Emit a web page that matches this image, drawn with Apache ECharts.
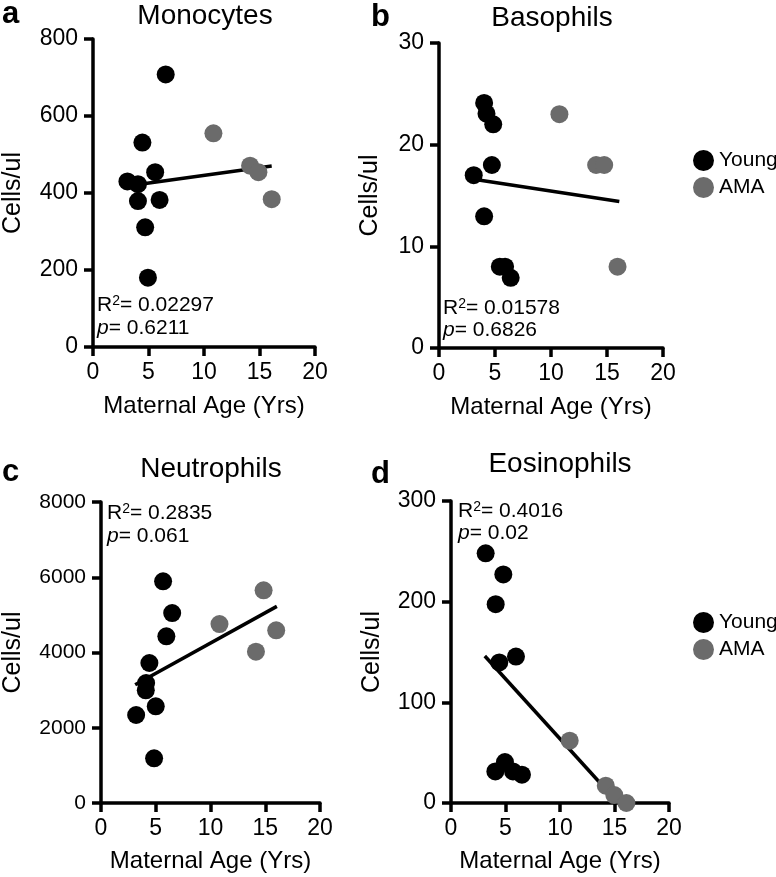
<!DOCTYPE html>
<html>
<head>
<meta charset="utf-8">
<script src="https://cdn.jsdelivr.net/npm/echarts@6/dist/echarts.min.js"></script>
<style>
html,body{margin:0;padding:0;background:#fff;}
#chart{width:776px;height:877px;}
</style>
</head>
<body>
<div id="chart"></div>
<script>
// ---- Data ----
const panelTitles = ['Monocytes', 'Basophils', 'Neutrophils', 'Eosinophils'];
const panelLetters = ['a', 'b', 'c', 'd'];
const r2Labels = ['0.02297', '0.01578', '0.2835', '0.4016'];
const pLabels = ['0.6211', '0.6826', '0.061', '0.02'];
const xTicks = [0, 5, 10, 15, 20];
const yMax = [800, 30, 8000, 300];
const yStep = [200, 10, 2000, 100];

const monoYoungAge = [3.1, 4.05, 4.45, 4.05, 6.0, 5.6, 4.7, 4.95, 6.55];
const monoYoung = [430, 423, 531, 379, 382, 454, 311, 180, 708];
const monoAMAAge = [10.85, 14.15, 14.9, 16.1];
const monoAMA = [555, 471, 454, 384];
const monoFitX = [3.1, 16.1];
const monoFitY = [418, 470];

const basoYoungAge = [3.1, 4.03, 4.24, 4.84, 4.72, 4.03, 5.43, 5.9, 6.4];
const basoYoung = [17, 24.1, 23.05, 22, 18, 12.95, 8, 8, 6.9];
const basoAMAAge = [10.75, 14.03, 14.75, 15.94];
const basoAMA = [23, 18, 18, 8];
const basoFitX = [3.1, 16.1];
const basoFitY = [16.6, 14.4];

const neutYoungAge = [5.67, 6.5, 5.97, 4.42, 4.12, 4.09, 3.21, 5.0, 4.85];
const neutYoung = [5891, 5049, 4430, 3721, 3189, 2994, 2339, 2569, 1187];
const neutAMAAge = [10.82, 14.85, 16.0, 14.15];
const neutAMA = [4757, 5652, 4589, 4022];
const neutFitX = [3.12, 16.06];
const neutFitY = [3145, 5226];

const eosYoungAge = [3.18, 4.8, 4.1, 4.43, 5.96, 4.07, 4.95, 5.69, 6.51];
const eosYoung = [248, 227, 197.5, 139.6, 145.5, 31.4, 40.7, 31.4, 28.1];
const eosAMAAge = [10.89, 14.2, 14.98, 16.09];
const eosAMA = [61.9, 17.2, 7.9, 0];
const eosFitX = [3.1, 15.35];
const eosFitY = [146, 0];

// ---- Layout ----
const FONT = '"Liberation Sans", Arial, Helvetica, sans-serif';
const grids = [
  {left: 92, top: 39, width: 223, height: 308},
  {left: 439, top: 43, width: 224, height: 305},
  {left: 100, top: 502, width: 220, height: 301},
  {left: 451, top: 501, width: 218, height: 302}
];
const yNameGap = [67, 56, 75, 66];
const xNameGap = [47, 47, 46, 46];
const yLabelSize = [23, 23, 21, 23];
const titlePos = [[205, 16], [552, 18], [211, 469], [560, 464]];
const letterPos = [[2, 14], [371, 17], [2, 472], [371, 474]];
const annoPos = [[97, 305, 328], [443, 308, 330], [107, 513, 536], [458, 511, 533]];

const zip = (xs, ys) => xs.map((x, i) => [x, ys[i]]);
const panels = [
  [monoYoungAge, monoYoung, monoAMAAge, monoAMA, monoFitX, monoFitY],
  [basoYoungAge, basoYoung, basoAMAAge, basoAMA, basoFitX, basoFitY],
  [neutYoungAge, neutYoung, neutAMAAge, neutAMA, neutFitX, neutFitY],
  [eosYoungAge, eosYoung, eosAMAAge, eosAMA, eosFitX, eosFitY]
];

const axisLine = {show: true, onZero: false, lineStyle: {color: '#000', width: 3.5}};
const axisTick = {show: true, length: 9, lineStyle: {color: '#000', width: 3.5}};

const xAxes = grids.map((g, i) => ({
  type: 'value', gridIndex: i, min: xTicks[0], max: xTicks[xTicks.length - 1], interval: 5,
  axisLine, axisTick, splitLine: {show: false},
  axisLabel: {color: '#000', fontSize: 23, fontFamily: FONT, margin: 14},
  name: 'Maternal Age (Yrs)', nameLocation: 'middle', nameGap: xNameGap[i],
  nameTextStyle: {color: '#000', fontSize: 24, fontFamily: FONT}
}));
const yAxes = grids.map((g, i) => ({
  type: 'value', gridIndex: i, min: 0, max: yMax[i], interval: yStep[i],
  axisLine, axisTick, splitLine: {show: false},
  axisLabel: {color: '#000', fontSize: yLabelSize[i], fontFamily: FONT, margin: 15,
    formatter: v => String(v)},
  name: 'Cells/ul', nameLocation: 'middle', nameGap: yNameGap[i],
  nameTextStyle: {color: '#000', fontSize: 25, fontFamily: FONT}
}));

const series = [];
panels.forEach((p, i) => {
  series.push({
    type: 'line', name: 'fit' + i, xAxisIndex: i, yAxisIndex: i,
    data: zip(p[4], p[5]), symbol: 'none', z: 1,
    lineStyle: {color: '#000', width: 3.5}, silent: true
  });
  series.push({
    type: 'scatter', name: 'Young', xAxisIndex: i, yAxisIndex: i,
    data: zip(p[0], p[1]), symbol: 'circle', symbolSize: 18, z: 3,
    itemStyle: {color: '#000', opacity: 1}
  });
  series.push({
    type: 'scatter', name: 'AMA', xAxisIndex: i, yAxisIndex: i,
    data: zip(p[2], p[3]), symbol: 'circle', symbolSize: 18, z: 2,
    itemStyle: {color: '#6b6b6b', opacity: 1}
  });
});

const graphic = [];
panelTitles.forEach((t, i) => {
  graphic.push({type: 'text', x: titlePos[i][0], y: titlePos[i][1],
    style: {text: t, font: '28px ' + FONT, fill: '#000', align: 'center', verticalAlign: 'middle'}});
  graphic.push({type: 'text', x: letterPos[i][0], y: letterPos[i][1],
    style: {text: panelLetters[i], font: 'bold 31px ' + FONT, fill: '#000', align: 'left', verticalAlign: 'middle'}});
  graphic.push({type: 'text', x: annoPos[i][0], y: annoPos[i][1],
    style: {text: '{n|R}{s|2}{n|= ' + r2Labels[i] + '}', align: 'left', verticalAlign: 'middle',
      rich: {n: {fontSize: 21, fontFamily: FONT, fill: '#000', color: '#000'},
             s: {fontSize: 14, fontFamily: FONT, fill: '#000', color: '#000', verticalAlign: 'top', padding: [0, 0, 8, 0]}}}});
  graphic.push({type: 'text', x: annoPos[i][0], y: annoPos[i][2],
    style: {text: '{i|p}{n|= ' + pLabels[i] + '}', align: 'left', verticalAlign: 'middle',
      rich: {n: {fontSize: 21, fontFamily: FONT, fill: '#000', color: '#000'},
             i: {fontSize: 21, fontFamily: FONT, fontStyle: 'italic', fill: '#000', color: '#000'}}}});
});

const legendBase = {
  data: ['Young', 'AMA'], orient: 'vertical', left: 693, itemWidth: 21, itemHeight: 21,
  itemGap: 6, padding: 0, icon: 'circle', selectedMode: false,
  textStyle: {color: '#000', fontSize: 21, fontFamily: FONT}
};

const chart = echarts.init(document.getElementById('chart'), null, {renderer: 'canvas'});
chart.setOption({
  animation: false,
  backgroundColor: '#fff',
  grid: grids,
  xAxis: xAxes,
  yAxis: yAxes,
  series,
  legend: [Object.assign({top: 150}, legendBase), Object.assign({top: 612}, legendBase)],
  graphic
});
</script>
</body>
</html>
